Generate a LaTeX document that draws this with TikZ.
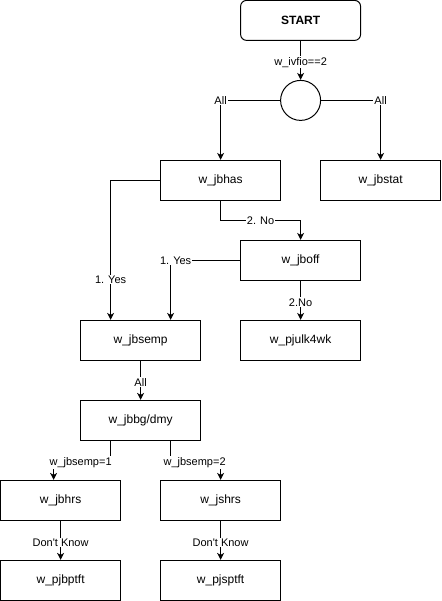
\documentclass[tikz,border=0pt]{standalone}
\usepackage{fontspec}
\setmainfont{Liberation Sans}
\usetikzlibrary{arrows.meta,positioning}
\begin{document}
\begin{tikzpicture}[x=1pt,y=-1pt,line width=1pt,
  box/.style={draw,rectangle,minimum width=120pt,minimum height=40pt,inner sep=0pt,font=\fontsize{12}{14}\selectfont},
  startbox/.style={box,rounded corners=6pt,font=\fontsize{12}{14}\selectfont\bfseries},
  junction/.style={draw,circle,minimum size=40pt,inner sep=0pt},
  lbl/.style={fill=white,inner sep=1pt,font=\fontsize{11}{13}\selectfont},
  arr/.style={-{Stealth[length=7pt,width=7pt,inset=2pt]}}]
\useasboundingbox (-0.6,-0.4) rectangle (440.4,600.6);
\node[startbox] (start) at (300,20) {START};
\node[junction] (circ) at (300,100) {};
\node[box] (jbhas) at (220,180) {w\_jbhas};
\node[box] (jbstat) at (380,180) {w\_jbstat};
\node[box] (jboff) at (300,260) {w\_jboff};
\node[box] (jbsemp) at (140,340) {w\_jbsemp};
\node[box] (pjulk) at (300,340) {w\_pjulk4wk};
\node[box] (jbbg) at (140,420) {w\_jbbg/dmy};
\node[box] (jbhrs) at (60,500) {w\_jbhrs};
\node[box] (jshrs) at (220,500) {w\_jshrs};
\node[box] (pjbptft) at (60,580) {w\_pjbptft};
\node[box] (pjsptft) at (220,580) {w\_pjsptft};

\draw[arr] (start.south) -- node[lbl,pos=0.55] {w\_ivfio==2} (circ.north);
\draw[arr] (circ.west) -| (jbhas.north);
\node[lbl] at (220,100) {All};
\draw[arr] (circ.east) -| (jbstat.north);
\node[lbl] at (380,100) {All};
\draw[arr] (jbhas.west) -| ([xshift=-30pt]jbsemp.north);
\node[lbl] at (110,279) {1. Yes};
\draw[arr] (jbhas.south) -- ++(0,20) -| (jboff.north);
\node[lbl] at (260,220) {2. No};
\draw[arr] (jboff.west) -| ([xshift=30pt]jbsemp.north);
\node[lbl] at (175,260) {1. Yes};
\draw[arr] (jboff.south) -- node[lbl,pos=0.55] {2.No} (pjulk.north);
\draw[arr] (jbsemp.south) -- node[lbl,pos=0.55] {All} (jbbg.north);
\draw[arr] ([xshift=-30pt]jbbg.south) -- ++(0,22) -| ([xshift=-7pt]jbhrs.north);
\node[lbl] at (80,462) {w\_jbsemp=1};
\draw[arr] ([xshift=30pt]jbbg.south) -- ++(0,22) -| (jshrs.north);
\node[lbl] at (194,462) {w\_jbsemp=2};
\draw[arr] (jbhrs.south) -- node[lbl,pos=0.55] {Don\textquotesingle t Know} (pjbptft.north);
\draw[arr] (jshrs.south) -- node[lbl,pos=0.55] {Don\textquotesingle t Know} (pjsptft.north);
\end{tikzpicture}
\end{document}
